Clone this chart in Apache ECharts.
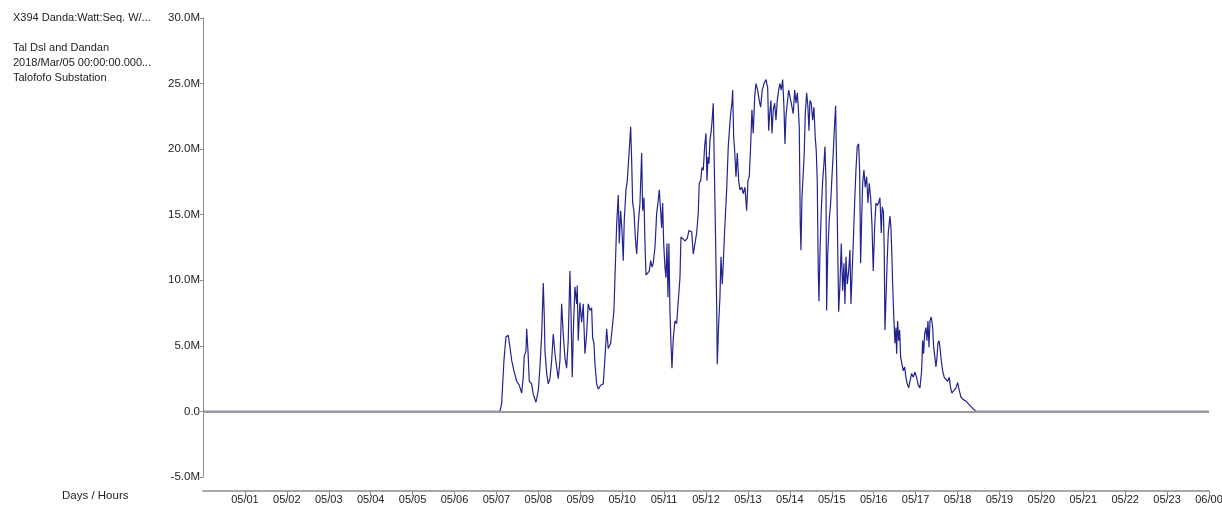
<!DOCTYPE html>
<html>
<head>
<meta charset="utf-8">
<script src="https://cdn.jsdelivr.net/npm/echarts@6/dist/echarts.min.js"></script>
<style>
html,body{margin:0;padding:0;background:#fff;}
#chart{width:1222px;height:506px;}
</style>
</head>
<body>
<div id="chart"></div>
<script>
// Header text lines (top-left legend block)
const headerLines = ['X394 Danda:Watt:Seq. W/...', 'Tal Dsl and Dandan', '2018/Mar/05 00:00:00.000...', 'Talofofo Substation'];
const xAxisName = 'Days / Hours';
// X tick labels: day offsets 0..24 (day 0 = start of axis, unlabeled)
const xTickLabels = ['', '05/01', '05/02', '05/03', '05/04', '05/05', '05/06', '05/07', '05/08', '05/09', '05/10', '05/11', '05/12',
  '05/13', '05/14', '05/15', '05/16', '05/17', '05/18', '05/19', '05/20', '05/21', '05/22', '05/23', '06/00'];
// Y tick values (in millions) and their labels
const yTickValues = [-5, 0, 5, 10, 15, 20, 25, 30];
const yTickLabels = ['-5.0M', '0.0', '5.0M', '10.0M', '15.0M', '20.0M', '25.0M', '30.0M'];

// Readings: [day offset from axis start, value in millions]
const powerMW = [
  [0,0],[6.99,0],[7.085,0],[7.125,0.6],[7.18,3.9],[7.228,5.7],[7.283,5.8],[7.323,4.9],[7.364,3.9],[7.419,3.1],
  [7.483,2.3],[7.545,2.0],[7.602,1.4],[7.64,2.6],[7.664,4.2],[7.705,4.6],[7.722,6.3],[7.753,4.6],[7.784,2.3],[7.841,2.1],
  [7.879,1.3],[7.944,0.7],[7.999,1.6],[8.039,3.4],[8.08,5.9],[8.118,9.8],[8.142,7.2],[8.158,4.6],[8.199,2.9],[8.237,2.1],
  [8.278,2.5],[8.318,3.9],[8.356,5.9],[8.397,4.4],[8.437,3.4],[8.475,2.5],[8.516,3.9],[8.556,8.2],[8.594,5.9],[8.635,4.1],
  [8.675,3.3],[8.713,5.4],[8.754,10.7],[8.778,7.7],[8.809,2.6],[8.833,5.9],[8.873,9.5],[8.914,8.2],[8.928,9.6],[8.952,5.4],
  [8.992,8.3],[9.033,6.8],[9.071,8.2],[9.112,4.4],[9.152,5.9],[9.19,8.2],[9.231,7.7],
  [9.272,7.9],[9.296,5.6],[9.327,5.2],[9.351,3.6],[9.392,2.1],[9.43,1.7],[9.487,2.0],[9.549,2.1],[9.59,4.1],[9.63,6.3],
  [9.668,4.8],[9.726,5.2],[9.773,6.7],[9.804,7.7],[9.828,10.2],[9.869,14.3],[9.907,16.5],[9.931,12.8],[9.964,15.3],[9.995,13.8],
  [10.026,11.5],[10.05,14.6],[10.091,16.9],[10.122,17.6],[10.169,19.9],[10.203,21.7],[10.227,19.1],[10.25,15.9],[10.281,15.3],[10.313,13.3],
  [10.346,12.0],[10.384,14.3],[10.425,15.9],[10.465,19.7],[10.489,15.3],[10.52,16.3],[10.544,12.8],[10.568,10.4],[10.599,10.4],[10.647,10.7],
  [10.68,11.5],[10.711,11.0],[10.742,11.3],[10.782,12.5],[10.823,15.1],[10.861,16.1],[10.885,16.9],[10.918,15.3],[10.942,14.0],[10.966,15.9],
  [10.99,12.8],[11.021,11.0],[11.045,10.2],[11.069,12.8],[11.093,8.7],[11.116,12.8],[11.14,7.7],[11.164,5.2],[11.188,3.3],[11.219,5.6],
  [11.26,6.9],[11.3,6.7],[11.338,8.4],[11.379,10.2],[11.403,13.3],[11.443,13.4],[11.498,13.0],[11.553,13.2],[11.594,13.8],
  [11.617,13.8],[11.658,13.7],[11.696,12.0],[11.737,11.9],[11.777,13.6],[11.815,15.1],[11.839,17.4],[11.873,17.6],[11.904,18.6],[11.935,18.4],
  [11.968,20.2],[11.999,21.2],[12.023,17.6],[12.047,19.4],[12.071,18.9],[12.094,20.7],[12.118,21.2],[12.142,22.0],[12.173,23.5],[12.197,18.9],
  [12.221,14.6],[12.254,8.2],[12.269,3.6],[12.302,6.7],[12.333,8.7],[12.357,11.8],[12.388,9.7],[12.412,11.3],[12.445,13.8],[12.493,16.9],
  [12.531,20.2],[12.564,21.7],[12.588,22.7],[12.619,23.5],[12.636,24.5],[12.66,20.9],[12.684,19.9],[12.715,17.9],[12.746,19.7],[12.779,17.6],
  [12.81,16.9],[12.851,17.1],[12.889,16.6],[12.929,17.1],[12.97,15.3],[13.001,17.6],[13.032,17.9],[13.065,20.2],[13.096,23.0],[13.127,21.2],
  [13.161,24.0],[13.192,25.0],[13.232,24.5],[13.271,23.7],[13.304,23.2],[13.342,24.5],[13.383,25.0],[13.43,25.3],[13.471,24.7],[13.495,21.4],
  [13.519,22.7],[13.55,23.7],[13.574,21.2],[13.605,23.0],[13.638,23.5],[13.669,22.2],[13.7,23.7],[13.733,24.5],[13.764,25.0],[13.795,24.5],
  [13.829,25.3],[13.86,23.2],[13.884,20.4],[13.907,22.5],[13.939,23.5],[13.972,24.5],[14.003,24.0],
  [14.044,24.0],[14.082,22.7],[14.115,24.5],[14.146,23.5],[14.177,24.3],[14.201,23.2],[14.225,21.7],[14.249,14.3],[14.265,12.3],[14.289,16.3],
  [14.32,18.2],[14.344,19.7],[14.368,22.7],[14.401,24.3],[14.432,23.2],[14.456,21.4],[14.48,23.7],[14.511,23.5],[14.544,22.2],[14.575,23.2],
  [14.606,20.9],[14.63,19.9],[14.654,17.6],[14.678,10.7],[14.695,8.4],[14.718,12.0],[14.75,15.3],[14.783,17.6],[14.814,18.9],[14.838,20.2],
  [14.862,17.6],[14.878,7.7],[14.902,11.8],[14.94,14.6],[14.974,15.9],[15.005,17.9],[15.036,19.7],[15.069,22.0],[15.093,23.3],[15.117,18.4],
  [15.141,12.8],[15.165,7.6],[15.196,9.7],[15.227,12.8],[15.26,9.2],[15.291,11.3],[15.315,8.2],[15.339,11.8],[15.37,9.7],[15.403,10.7],
  [15.434,12.3],[15.458,8.2],[15.482,10.2],[15.513,12.8],[15.546,15.9],[15.577,18.4],[15.608,20.2],[15.642,20.4],[15.665,18.4],[15.689,11.3],
  [15.713,14.6],[15.737,17.4],[15.768,18.4],[15.799,17.1],[15.833,17.9],[15.864,15.9],[15.895,17.4],[15.928,16.3],[15.959,14.3],[15.99,10.7],
  [16.023,14.0],[16.054,15.9],[16.085,15.7],[16.119,15.9],[16.15,16.3],[16.181,13.6],[16.205,15.6],[16.233,15.2],[16.252,12.3],[16.269,6.2],
  [16.293,8.4],[16.317,11.0],[16.348,13.6],[16.388,14.9],[16.412,14.0],[16.436,11.8],[16.453,9.7],[16.467,8.4],[16.484,6.9],[16.508,5.2],
  [16.532,6.4],[16.548,4.4],[16.572,6.9],[16.596,5.4],[16.62,6.2],[16.644,4.1],[16.675,3.6],[16.706,3.1],[16.739,3.4],[16.77,2.6],
  [16.801,2.1],[16.834,1.8],[16.865,2.3],[16.906,2.9],[16.944,2.6],[16.985,3.0],[17.025,2.6],[17.063,2.0],[17.104,1.8],[17.144,3.1],
  [17.168,5.4],[17.192,4.4],[17.216,5.9],[17.247,6.4],[17.271,5.4],[17.295,6.9],[17.319,4.9],[17.343,6.9],[17.374,7.2],[17.407,6.4],
  [17.431,4.9],[17.462,4.1],[17.486,3.4],[17.51,4.1],[17.533,5.2],[17.557,5.4],[17.581,4.9],[17.612,3.9],[17.646,3.1],[17.684,2.6],
  [17.724,2.5],[17.765,2.3],[17.803,2.6],[17.836,1.8],[17.867,1.4],[17.915,1.6],[17.963,1.8],[18.003,2.2],[18.042,1.6],[18.082,1.1],
  [18.137,0.9],[18.201,0.8],[18.256,0.6],[18.313,0.4],[18.376,0.2],[18.44,0],[24,0]
];

const FONT = "'Liberation Sans', Arial, sans-serif";
const TEXT_COLOR = '#222';
const AXIS_GRAY = '#8c8c8c';

// Tick positions 1..24 (the labeled days), taken from the tick label list
const xTickDays = xTickLabels.map((l, i) => i).filter(i => xTickLabels[i] !== '');

const chart = echarts.init(document.getElementById('chart'), null, {renderer: 'canvas'});

const headerTops = [12, 42, 57, 72];
const graphics = headerLines.map((t, i) => ({
  type: 'text', left: 13, top: headerTops[i],
  style: {text: t, font: '11px ' + FONT, fill: TEXT_COLOR}
}));
graphics.push({
  type: 'text', left: 62, top: 490,
  style: {text: xAxisName, font: '11.5px ' + FONT, fill: TEXT_COLOR}
});

chart.setOption({
  animation: false,
  backgroundColor: '#fff',
  graphic: graphics,
  grid: {left: 203, right: 13, top: 18, bottom: 29, containLabel: false, outerBoundsMode: 'none'},
  xAxis: {
    type: 'value', min: 0, max: 24, interval: 1,
    offset: 14,
    axisLine: {show: true, onZero: false, lineStyle: {color: '#a8a8a8', width: 2}},
    axisTick: {show: true, length: 5, inside: false, customValues: xTickDays, lineStyle: {color: AXIS_GRAY, width: 1}},
    axisLabel: {
      show: true, margin: 3, color: TEXT_COLOR, fontSize: 11, fontFamily: FONT,
      customValues: xTickDays,
      formatter: v => xTickLabels[Math.round(v)] || ''
    },
    splitLine: {show: false}
  },
  yAxis: {
    type: 'value', min: -5, max: 30, interval: 5,
    axisLine: {show: true, onZero: false, lineStyle: {color: AXIS_GRAY, width: 1}},
    axisTick: {show: true, length: 3, lineStyle: {color: AXIS_GRAY}},
    axisLabel: {
      margin: 3, color: TEXT_COLOR, fontSize: 11.5, fontFamily: FONT,
      formatter: v => yTickLabels[yTickValues.indexOf(v)]
    },
    splitLine: {show: false}
  },
  series: [
    {
      type: 'line', data: [], z: 1, silent: true,
      markLine: {
        silent: true, symbol: ['none', 'none'], label: {show: false},
        lineStyle: {color: '#9a9a9a', width: 2, type: 'solid'},
        data: [{yAxis: 0}]
      }
    },
    {
      type: 'line', data: powerMW, z: 3, showSymbol: false, symbol: 'none',
      sampling: null, smooth: false,
      lineStyle: {color: '#23238f', width: 1.2}
    }
  ]
});
</script>
</body>
</html>
